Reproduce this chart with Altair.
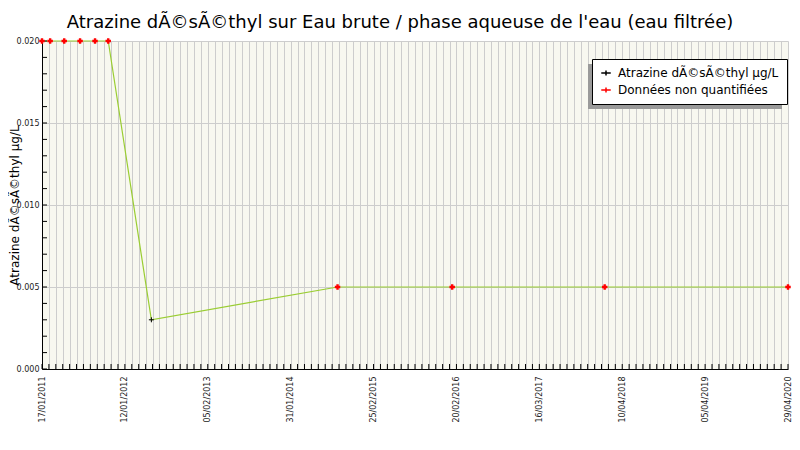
import altair as alt
import pandas as pd

# ---- data ----
dates = ["2011-01-17", "2011-02-23", "2011-04-28", "2011-07-09", "2011-09-15",
         "2011-11-14", "2012-05-28", "2014-09-21", "2016-02-24", "2018-01-17",
         "2020-04-29"]
values = [0.02, 0.02, 0.02, 0.02, 0.02, 0.02, 0.003, 0.005, 0.005, 0.005, 0.005]
quantified = [False, False, False, False, False, False, True, False, False, False, False]

x_labels = ["17/01/2011", "12/01/2012", "05/02/2013", "31/01/2014", "25/02/2015",
            "20/02/2016", "16/03/2017", "10/04/2018", "05/04/2019", "29/04/2020"]
y_ticks_major = [0.0, 0.005, 0.01, 0.015, 0.02]
y_ticks_minor = [i / 1000 for i in range(21)]

SERIE_Q = "Atrazine dÃ©sÃ©thyl µg/L"
SERIE_NQ = "Données non quantifiées"
TITLE = "Atrazine dÃ©sÃ©thyl sur Eau brute / phase aqueuse de l'eau (eau filtrée)"

FONT = "DejaVu Sans"
W, H = 746, 328

def ms(s):
    return int(pd.Timestamp(s).value // 10**6)

start, end = ms("2011-01-17"), ms("2020-04-29")
n_minor = 12 * (len(x_labels) - 1)
minor_step = (end - start) / n_minor
major_step = minor_step * 12
x_tick_vals = [int(round(start + k * minor_step)) for k in range(n_minor + 1)]

df = pd.DataFrame({
    "date": [ms(d) for d in dates],
    "value": values,
    "serie": [SERIE_Q if q else SERIE_NQ for q in quantified],
})
ticks_x = pd.DataFrame({"t": x_tick_vals})
ticks_y = pd.DataFrame({"v": y_ticks_minor})

labels_js = "[" + ",".join("'" + s + "'" for s in x_labels) + "]"
kexpr = f"((+datum.value) - {start}) / {major_step}"
label_expr = f"abs({kexpr} - round({kexpr})) < 0.02 ? {labels_js}[round({kexpr})] : ''"

xscale = alt.Scale(domain=[start, end], nice=False)
yscale = alt.Scale(domain=[0, 0.02], nice=False, zero=True)

GRID = "#CDCDCD"
BG = "#F8F8F0"

x_axis = alt.Axis(
    values=x_tick_vals, labelExpr=label_expr, labelAngle=270, labelAlign="right",
    labelBaseline="middle", labelPadding=7, labelOverlap=False, labelBound=False,
    labelFont=FONT, labelFontSize=8, labelColor="#222222", ticks=False,
    grid=True, gridColor=GRID, gridWidth=1, domainColor="black", domainWidth=1,
    title=None,
)
y_axis = alt.Axis(
    values=y_ticks_major, format=".3f", labelFont=FONT, labelFontSize=8,
    labelColor="#222222", labelPadding=3, ticks=False, grid=True,
    gridColor=GRID, gridWidth=1, domainColor="black", domainWidth=1,
    title=SERIE_Q, titleFont=FONT, titleFontSize=12, titleFontWeight="normal",
    titleColor="black", titleX=-28, titleY=H / 2, titleAngle=270,
    titleBaseline="middle", titleAlign="center",
)

X = alt.X("date:T", scale=xscale, axis=x_axis)
Y = alt.Y("value:Q", scale=yscale, axis=y_axis)

color = alt.Color(
    "serie:N",
    scale=alt.Scale(domain=[SERIE_Q, SERIE_NQ], range=["black", "red"]),
    legend=alt.Legend(
        title=None, orient="none", legendX=550, legendY=18,
        strokeColor="black", fillColor="white", padding=8,
        labelFont=FONT, labelFontSize=12, labelColor="black",
        symbolType="M-1,0H1M0,-0.55V0.55", symbolSize=90,
        symbolStrokeWidth=1.5, symbolFillColor="transparent",
        rowPadding=5, labelOffset=6, labelLimit=300,
    ),
)

base = alt.Chart(df)

line = base.mark_line(color="#9ACD32", strokeWidth=1.2).encode(
    x=X, y=Y, order="date:T",
)

pts_nq = base.transform_filter(alt.datum.serie == SERIE_NQ).mark_point(
    shape="M-1,0H1M0,-1V1", size=30, strokeWidth=2.4, filled=False, opacity=1
).encode(x=X, y=Y, color=color)

pts_q = base.transform_filter(alt.datum.serie == SERIE_Q).mark_point(
    shape="M-1,0H1M0,-1V1", size=25, strokeWidth=1, filled=False, opacity=1
).encode(x=X, y=Y, color=color)

xticks = alt.Chart(ticks_x).mark_rule(color="black", strokeWidth=1).encode(
    x=alt.X("t:T", scale=xscale, axis=x_axis), y=alt.value(H), y2=alt.value(H - 5)
)
yticks = alt.Chart(ticks_y).mark_rule(color="black", strokeWidth=1).encode(
    y=alt.Y("v:Q", scale=yscale, axis=y_axis), x=alt.value(0), x2=alt.value(5)
)

shadow = alt.Chart(pd.DataFrame({"s": [0]})).mark_rect(color="#9A9A9A").encode(
    x=alt.value(546), x2=alt.value(740), y=alt.value(23), y2=alt.value(68)
)

chart = alt.layer(line, xticks, yticks, shadow, pts_nq, pts_q).properties(
    width=W, height=H,
    title=alt.TitleParams(TITLE, font=FONT, fontSize=18, fontWeight="normal",
                          color="black", anchor="middle", frame="group",
                          offset=7, dy=6, dx=-15),
    autosize=alt.AutoSizeParams(type="none"),
    padding={"left": 34, "top": 33, "right": 4, "bottom": 73},
    view=alt.ViewConfig(fill=BG, stroke=None),
).configure_view(
    fill=BG, stroke=None
).configure(background="white")

chart.save("out.html", embed_options={"renderer": "svg", "actions": False})
